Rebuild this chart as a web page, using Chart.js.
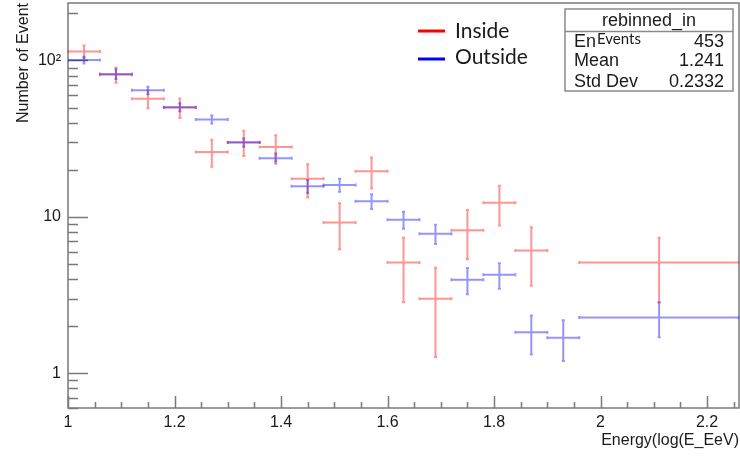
<!DOCTYPE html>
<html>
<head>
<meta charset="utf-8">
<script src="https://cdn.jsdelivr.net/npm/chart.js@4.4.1/dist/chart.umd.min.js"></script>
<style>
  html, body { margin: 0; padding: 0; background: #fff; }
  #wrap { width: 740px; height: 456px; }
</style>
</head>
<body>
<div id="wrap"><canvas id="histCanvas" width="740" height="456"></canvas></div>
<script>
// bin edges of log(E/EeV); last bin is the wide one
const binEdges = [1.00, 1.06, 1.12, 1.18, 1.24, 1.30, 1.36, 1.42, 1.48, 1.54, 1.60, 1.66, 1.72, 1.78, 1.84, 1.90, 1.96, 2.26];

const insideCounts = [114, 81, 57, 50, 26, 30, 28, 17.5, 9.2, 19.6, 5.1, 3.0, 8.2, 12.3, 6.1, null, 5.1];
const insideErrors = [10.7, 9.0, 7.5, 7.1, 5.1, 5.5, 5.3, 4.2, 3.0, 4.4, 2.25, 1.73, 2.85, 3.5, 2.47, null, 2.25];

const outsideCounts = [100.5, 82, 64.4, 50.3, 42, 29.9, 23.7, 15.7, 16.0, 12.6, 9.6, 7.8, 3.96, 4.26, 1.83, 1.69, 2.27];
const outsideErrors = [5.0, 5.8, 3.6, 3.0, 2.5, 1.8, 1.75, 1.5, 1.55, 1.35, 1.2, 1.1, 0.76, 0.79, 0.51, 0.49, 0.57];

const xTickValues = [1, 1.2, 1.4, 1.6, 1.8, 2, 2.2];
const xTickLabels = ['1', '1.2', '1.4', '1.6', '1.8', '2', '2.2'];
const yTickValues = [1, 10, 100];
const yTickLabels = ['1', '10', '10\u00B2'];

const statsTitle = 'rebinned_in';
const statsEntries = '453';
const statsRows = [['Mean', '1.241'], ['Std Dev', '0.2332']];

const AXIS_COLOR = '#7a7a7a';
const TEXT_COLOR = '#1a1a1a';
const SANS = '"Liberation Sans", Arial, sans-serif';

function toPoints(counts, errors) {
  const pts = [];
  counts.forEach((v, i) => {
    if (v === null) return;
    pts.push({
      x: (binEdges[i] + binEdges[i + 1]) / 2,
      y: v,
      xlo: binEdges[i],
      xhi: binEdges[i + 1],
      err: errors[i]
    });
  });
  return pts;
}

// error crosses, ROOT style
const crossPlugin = {
  id: 'crosses',
  afterDatasetsDraw(chart) {
    const { ctx, chartArea, scales: { x, y } } = chart;
    ctx.save();
    ctx.beginPath();
    ctx.rect(chartArea.left, chartArea.top, chartArea.width, chartArea.height);
    ctx.clip();
    chart.data.datasets.forEach((ds) => {
      ctx.strokeStyle = ds.borderColor;
      ctx.lineWidth = 2;
      ds.data.forEach((p) => {
        const px = x.getPixelForValue(p.x);
        const x0 = x.getPixelForValue(p.xlo);
        const x1 = x.getPixelForValue(p.xhi);
        const py = y.getPixelForValue(p.y);
        const yTop = y.getPixelForValue(p.y + p.err);
        const yBot = y.getPixelForValue(Math.max(p.y - p.err, 0.01));
        ctx.beginPath();
        ctx.moveTo(x0, py); ctx.lineTo(x1, py);
        ctx.moveTo(px, yTop); ctx.lineTo(px, yBot);
        // small end caps
        ctx.moveTo(x0, py - 1.5); ctx.lineTo(x0, py + 1.5);
        ctx.moveTo(x1, py - 1.5); ctx.lineTo(x1, py + 1.5);
        ctx.moveTo(px - 1.5, yTop); ctx.lineTo(px + 1.5, yTop);
        ctx.moveTo(px - 1.5, yBot); ctx.lineTo(px + 1.5, yBot);
        ctx.stroke();
      });
    });
    ctx.restore();
  }
};

// frame + inward ticks
const framePlugin = {
  id: 'frame',
  beforeDatasetsDraw(chart) {
    const { ctx, chartArea: a, scales: { x, y } } = chart;
    ctx.save();
    ctx.strokeStyle = AXIS_COLOR;
    ctx.lineWidth = 1.5;
    ctx.strokeRect(a.left, a.top, a.width, a.height);
    ctx.beginPath();
    // x ticks: major every 0.2, minor every 0.05
    for (let i = 0; i <= 25; i++) {
      const v = 1 + i * 0.05;
      if (v > x.max + 1e-9) break;
      const px = Math.round(x.getPixelForValue(v)) + 0.5;
      const len = (i % 4 === 0) ? 12 : 6;
      ctx.moveTo(px, a.bottom); ctx.lineTo(px, a.bottom - len);
    }
    // y ticks: log decades with 2..9 minors
    for (let d = -1; d <= 2; d++) {
      for (let k = 1; k <= 9; k++) {
        const v = k * Math.pow(10, d);
        if (v < y.min || v > y.max) continue;
        const py = Math.round(y.getPixelForValue(v)) + 0.5;
        const len = (k === 1) ? 20 : 10;
        ctx.moveTo(a.left, py); ctx.lineTo(a.left + len, py);
      }
    }
    ctx.stroke();
    ctx.restore();
  }
};

// legend and stats box
const boxPlugin = {
  id: 'boxes',
  afterDraw(chart) {
    const ctx = chart.ctx;
    ctx.save();
    // legend
    const legendRows = [[chart.data.datasets[0], 31, 31], [chart.data.datasets[1], 59, 57]];
    legendRows.forEach(([ds, lineY, textY]) => {
      ctx.strokeStyle = ds.legendColor;
      ctx.lineWidth = 3;
      ctx.beginPath();
      ctx.moveTo(418, lineY); ctx.lineTo(445, lineY);
      ctx.stroke();
      ctx.fillStyle = TEXT_COLOR;
      ctx.font = '21px Lato, "Open Sans", sans-serif';
      ctx.textAlign = 'left';
      ctx.textBaseline = 'middle';
      ctx.fillText(ds.label, 455, textY);
    });

    // stats box
    const bx = 565, by = 9, bw = 168, bh = 82;
    ctx.fillStyle = '#fff';
    ctx.fillRect(bx, by, bw, bh);
    ctx.strokeStyle = '#8a8a8a';
    ctx.lineWidth = 1.5;
    ctx.strokeRect(bx, by, bw, bh);
    ctx.beginPath();
    ctx.moveTo(bx, 31.5); ctx.lineTo(bx + bw, 31.5);
    ctx.stroke();

    ctx.fillStyle = TEXT_COLOR;
    ctx.textBaseline = 'alphabetic';
    ctx.font = '18px ' + SANS;
    ctx.textAlign = 'center';
    ctx.fillText(statsTitle, bx + bw / 2, 26);

    ctx.textAlign = 'left';
    ctx.fillText('En', 574, 47);
    ctx.font = '15px Lato, "Open Sans", sans-serif';
    ctx.fillText('Events', 597, 44);
    ctx.font = '18px ' + SANS;
    ctx.textAlign = 'right';
    ctx.fillText(statsEntries, 724, 47);

    statsRows.forEach(([name, val], i) => {
      const base = 66 + i * 21;
      ctx.textAlign = 'left';
      ctx.fillText(name, 574, base);
      ctx.textAlign = 'right';
      ctx.fillText(val, 724, base);
    });
    ctx.restore();
  }
};

const ctx = document.getElementById('histCanvas').getContext('2d');

new Chart(ctx, {
  type: 'scatter',
  data: {
    datasets: [
      {
        label: 'Inside',
        data: toPoints(insideCounts, insideErrors),
        borderColor: 'rgba(255, 0, 0, 0.42)',
        legendColor: '#ff0000',
        pointRadius: 0,
        showLine: false
      },
      {
        label: 'Outside',
        data: toPoints(outsideCounts, outsideErrors),
        borderColor: 'rgba(0, 0, 255, 0.42)',
        legendColor: '#0000ff',
        pointRadius: 0,
        showLine: false
      }
    ]
  },
  options: {
    responsive: false,
    animation: false,
    devicePixelRatio: 1,
    layout: { padding: { top: 3, right: 1, left: 0, bottom: 0 } },
    plugins: {
      legend: { display: false },
      tooltip: { enabled: false }
    },
    scales: {
      x: {
        type: 'linear',
        min: 1,
        max: 2.26,
        afterBuildTicks: (s) => { s.ticks = xTickValues.map((v) => ({ value: v })); },
        afterFit: (s) => { s.height = 48; s.paddingLeft = 0; s.paddingRight = 0; },
        grid: { display: false, drawTicks: false },
        border: { display: false },
        ticks: {
          autoSkip: false,
          maxRotation: 0,
          padding: 5,
          color: TEXT_COLOR,
          font: { family: SANS, size: 16 },
          callback: (v) => xTickLabels[xTickValues.findIndex((t) => Math.abs(t - v) < 1e-6)]
        },
        title: {
          display: true,
          text: 'Energy(log(E_EeV)',
          align: 'end',
          color: TEXT_COLOR,
          font: { family: SANS, size: 16 },
          padding: { top: 0, bottom: 6 }
        }
      },
      y: {
        type: 'logarithmic',
        min: 0.636,
        max: 233,
        afterBuildTicks: (s) => { s.ticks = yTickValues.map((v) => ({ value: v })); },
        afterFit: (s) => { s.width = 68; s.paddingTop = 0; s.paddingBottom = 0; },
        grid: { display: false, drawTicks: false },
        border: { display: false },
        ticks: {
          autoSkip: false,
          padding: 7,
          color: TEXT_COLOR,
          font: { family: SANS, size: 16 },
          callback: (v) => yTickLabels[yTickValues.findIndex((t) => Math.abs(t - v) < 1e-6)]
        },
        title: {
          display: true,
          text: 'Number of Event',
          align: 'end',
          color: TEXT_COLOR,
          font: { family: SANS, size: 16 },
          padding: { top: 14, bottom: 0 }
        }
      }
    }
  },
  plugins: [framePlugin, crossPlugin, boxPlugin]
});
</script>
</body>
</html>
